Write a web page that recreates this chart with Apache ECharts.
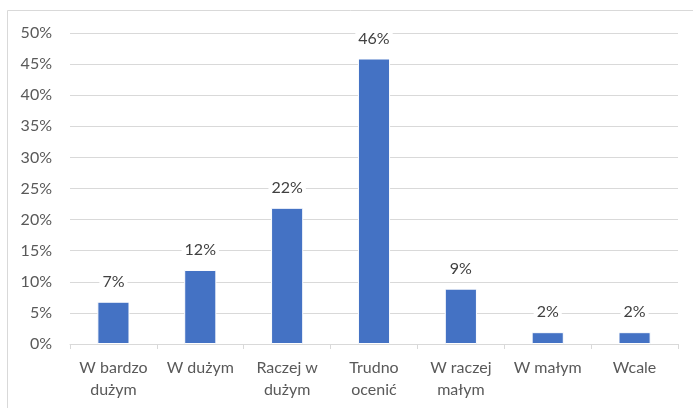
<!DOCTYPE html>
<html>
<head>
<meta charset="utf-8">
<script src="https://cdn.jsdelivr.net/npm/echarts@6/dist/echarts.min.js"></script>
<style>
html,body{margin:0;padding:0;background:#fff;}
#c{width:693px;height:408px;}
</style>
</head>
<body>
<div id="c"></div>
<script>
const categories = ["W bardzo\ndużym", "W dużym", "Raczej w\ndużym", "Trudno\nocenić", "W raczej\nmałym", "W małym", "Wcale"];
const values = [6.8, 11.9, 21.9, 45.9, 8.9, 1.9, 1.9];
const yTicks = {min: 0, max: 50, interval: 5};

const chart = echarts.init(document.getElementById('c'), null, {renderer: 'canvas'});
const font = 'Lato, "Open Sans", sans-serif';
chart.setOption({
  animation: false,
  graphic: [{
    type: 'rect',
    shape: {x: 7.5, y: 10.5, width: 720, height: 420},
    style: {fill: 'none', stroke: '#d9d9d9', lineWidth: 1},
    silent: true
  }],
  grid: {left: 70, right: 15, top: 33, bottom: 64, containLabel: false},
  xAxis: {
    type: 'category',
    data: categories,
    axisLine: {lineStyle: {color: '#d9d9d9', width: 1}},
    axisTick: {show: true, length: 5, lineStyle: {color: '#d9d9d9'}},
    axisLabel: {color: '#595959', fontFamily: font, fontSize: 16, lineHeight: 22, margin: 13, interval: 0}
  },
  yAxis: {
    type: 'value',
    min: yTicks.min, max: yTicks.max, interval: yTicks.interval,
    axisLine: {show: false},
    axisTick: {show: false},
    splitLine: {lineStyle: {color: '#d9d9d9', width: 1}},
    axisLabel: {color: '#595959', fontFamily: font, fontSize: 16, margin: 18, formatter: v => v + '%'}
  },
  series: [{
    type: 'bar',
    data: values,
    barWidth: '37%',
    itemStyle: {color: '#4472c4', borderColor: '#ffffff', borderWidth: 1},
    label: {
      show: true, position: 'top', distance: 11,
      color: '#404040', fontFamily: font, fontSize: 16,
      backgroundColor: '#ffffff', padding: [1, 3],
      formatter: p => Math.round(p.value) + '%'
    }
  }]
});
</script>
</body>
</html>
